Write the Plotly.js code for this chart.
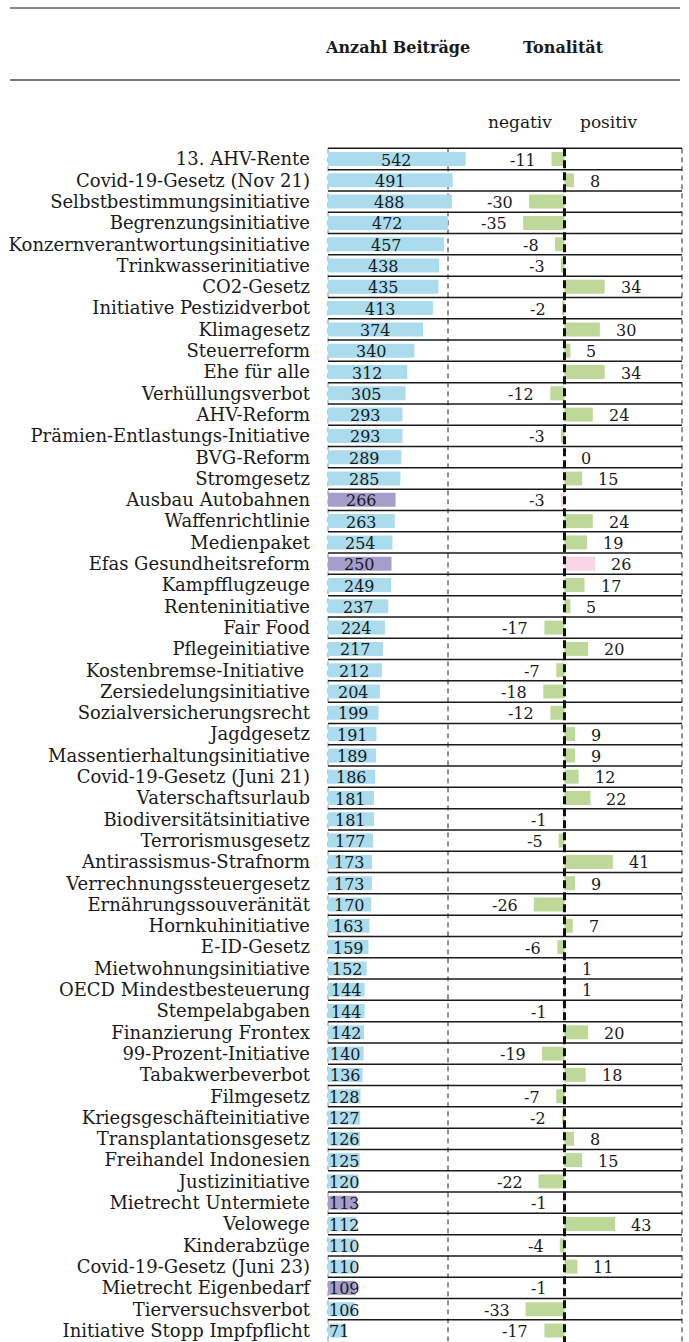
<!DOCTYPE html>
<html>
<head>
<meta charset="utf-8">
<script src="https://cdn.plot.ly/plotly-3.0.1.min.js"></script>
<style>html,body{margin:0;padding:0;background:#fff;}#chart{width:689px;height:1342px;}</style>
</head>
<body>
<div id="chart"></div>
<script>
const categories = [
  "13. AHV-Rente", "Covid-19-Gesetz (Nov 21)", "Selbstbestimmungsinitiative", "Begrenzungsinitiative",
  "Konzernverantwortungsinitiative", "Trinkwasserinitiative", "CO2-Gesetz", "Initiative Pestizidverbot",
  "Klimagesetz", "Steuerreform", "Ehe für alle", "Verhüllungsverbot", "AHV-Reform",
  "Prämien-Entlastungs-Initiative", "BVG-Reform", "Stromgesetz", "Ausbau Autobahnen", "Waffenrichtlinie",
  "Medienpaket", "Efas Gesundheitsreform", "Kampfflugzeuge", "Renteninitiative", "Fair Food",
  "Pflegeinitiative", "Kostenbremse-Initiative\u00a0", "Zersiedelungsinitiative", "Sozialversicherungsrecht",
  "Jagdgesetz", "Massentierhaltungsinitiative", "Covid-19-Gesetz (Juni 21)", "Vaterschaftsurlaub",
  "Biodiversitätsinitiative", "Terrorismusgesetz", "Antirassismus-Strafnorm", "Verrechnungssteuergesetz",
  "Ernährungssouveränität", "Hornkuhinitiative", "E-ID-Gesetz", "Mietwohnungsinitiative",
  "OECD Mindestbesteuerung", "Stempelabgaben", "Finanzierung Frontex", "99-Prozent-Initiative",
  "Tabakwerbeverbot", "Filmgesetz", "Kriegsgeschäfteinitiative", "Transplantationsgesetz",
  "Freihandel Indonesien", "Justizinitiative", "Mietrecht Untermiete", "Velowege", "Kinderabzüge",
  "Covid-19-Gesetz (Juni 23)", "Mietrecht Eigenbedarf", "Tierversuchsverbot", "Initiative Stopp Impfpflicht"
];
const counts = [
  542, 491, 488, 472, 457, 438, 435, 413, 374, 340, 312, 305, 293, 293, 289, 285, 266, 263, 254, 250,
  249, 237, 224, 217, 212, 204, 199, 191, 189, 186, 181, 181, 177, 173, 173, 170, 163, 159, 152, 144,
  144, 142, 140, 136, 128, 127, 126, 125, 120, 113, 112, 110, 110, 109, 106, 71
];
const tonality = [
  -11, 8, -30, -35, -8, -3, 34, -2, 30, 5, 34, -12, 24, -3, 0, 15, -3, 24, 19, 26,
  17, 5, -17, 20, -7, -18, -12, 9, 9, 12, 22, -1, -5, 41, 9, -26, 7, -6, 1, 1,
  -1, 20, -19, 18, -7, -2, 8, 15, -22, -1, 43, -4, 11, -1, -33, -17
];
const highlighted = ["Ausbau Autobahnen", "Efas Gesundheitsreform", "Mietrecht Untermiete", "Mietrecht Eigenbedarf"];
const headers = ["Anzahl Beiträge", "Tonalität"];
const toneLabels = ["negativ", "positiv"];

const W = 689, H = 1342;
const FONT = "DejaVu Serif";
const BLUE = "#aadcee", PURPLE = "#a59dcb", GREEN = "#bdd898", PINK = "#f8d4e4";
const px = v => v / W;
const py = v => 1 - v / H;

const idx = categories.map((_, i) => i);
const isHi = categories.map(c => highlighted.includes(c.trim()));

const countScale = 0.254;   // px per unit
const toneScale = 1.18;     // px per unit
const x0px = 328, toneZeroPx = 564.5, rightPx = 682;
const NUM_SIZE = 16;
const rowPitch = 21.3, firstRow = 159;
const yTop = -firstRow / rowPitch, ySpan = H / rowPitch;

const traces = [
  {
    type: "bar", orientation: "h", y: idx, x: counts, xaxis: "x", yaxis: "y",
    marker: { color: isHi.map(h => h ? PURPLE : BLUE) }, width: 0.656, hoverinfo: "skip"
  },
  {
    type: "bar", orientation: "h", y: idx, x: tonality, xaxis: "x2", yaxis: "y",
    marker: { color: isHi.map(h => h ? PINK : GREEN) }, width: 0.656, hoverinfo: "skip"
  }
];

const annotations = [];
counts.forEach((v, i) => {
  const s = String(v);
  const halfW = (s.length * 10.2 / 2 + 1) / countScale;
  annotations.push({
    xref: "x", yref: "y", x: Math.max(v / 2, halfW), y: i, text: s, showarrow: false,
    xanchor: "center", yanchor: "middle", yshift: -1,
    font: { family: FONT, size: NUM_SIZE, color: "#1a1a1a" }
  });
});
tonality.forEach((v, i) => {
  annotations.push({
    xref: "x2", yref: "y", x: v, y: i, text: String(v), showarrow: false,
    xanchor: v < 0 ? "right" : "left", xshift: v < 0 ? -14 : 14, yanchor: "middle", yshift: -1,
    font: { family: FONT, size: NUM_SIZE, color: "#1a1a1a" }
  });
});
annotations.push(
  { xref: "paper", yref: "paper", x: px(397), y: py(48), text: "<b>" + headers[0] + "</b>", showarrow: false,
    xanchor: "center", yanchor: "middle", font: { family: FONT, size: 16, color: "#1a1a1a" } },
  { xref: "paper", yref: "paper", x: px(563), y: py(48), text: "<b>" + headers[1] + "</b>", showarrow: false,
    xanchor: "center", yanchor: "middle", font: { family: FONT, size: 16, color: "#1a1a1a" } },
  { xref: "paper", yref: "paper", x: px(520), y: py(122), text: toneLabels[0], showarrow: false,
    xanchor: "center", yanchor: "middle", font: { family: FONT, size: 17, color: "#1a1a1a" } },
  { xref: "paper", yref: "paper", x: px(609), y: py(122), text: toneLabels[1], showarrow: false,
    xanchor: "center", yanchor: "middle", font: { family: FONT, size: 17, color: "#1a1a1a" } }
);

const shapes = [];
// top rules
shapes.push({ type: "line", xref: "paper", yref: "paper", x0: px(10), x1: px(680), y0: py(8), y1: py(8),
  line: { color: "#111", width: 1 } });
shapes.push({ type: "line", xref: "paper", yref: "paper", x0: px(10), x1: px(680), y0: py(80), y1: py(80),
  line: { color: "#7a7a7a", width: 2 } });
// vertical dashed lines
[[x0px, "#888"], [448, "#222"], [rightPx, "#222"]].forEach(([xv, c]) => {
  shapes.push({ type: "line", xref: "paper", yref: "y", x0: px(xv), x1: px(xv), y0: -0.5, y1: yTop + ySpan,
    layer: "below", line: { color: c, width: 1, dash: "5px,4px" } });
});
// horizontal row lines
for (let k = 0; k < categories.length; k++) {
  shapes.push({ type: "line", xref: "paper", yref: "y", x0: px(x0px), x1: px(rightPx), y0: k - 0.5, y1: k - 0.5,
    line: { color: "#1a1a1a", width: 1.5 } });
}
// centre line of tonality
shapes.push({ type: "line", xref: "x2", yref: "y", x0: 0, x1: 0, y0: -0.5, y1: yTop + ySpan,
  line: { color: "#111", width: 3, dash: "8px,4px" } });

const layout = {
  width: W, height: H, margin: { l: 0, r: 0, t: 0, b: 0 },
  paper_bgcolor: "#fff", plot_bgcolor: "rgba(0,0,0,0)", showlegend: false, barmode: "overlay",
  xaxis: { domain: [px(x0px), px(rightPx)], range: [0, (rightPx - x0px) / countScale], visible: false, fixedrange: true },
  xaxis2: { domain: [px(x0px), px(rightPx)], range: [(x0px - toneZeroPx) / toneScale, (rightPx - toneZeroPx) / toneScale],
    anchor: "y", visible: false, fixedrange: true },
  yaxis: {
    range: [yTop + ySpan, yTop], tickvals: idx, ticktext: categories, showgrid: false, zeroline: false, showline: false,
    ticks: "", ticklabelstandoff: 17, fixedrange: true,
    tickfont: { family: FONT, size: 18, color: "#1a1a1a" }
  },
  annotations: annotations, shapes: shapes, hovermode: false
};

Plotly.newPlot("chart", traces, layout, { displayModeBar: false, staticPlot: true });
</script>
</body>
</html>
